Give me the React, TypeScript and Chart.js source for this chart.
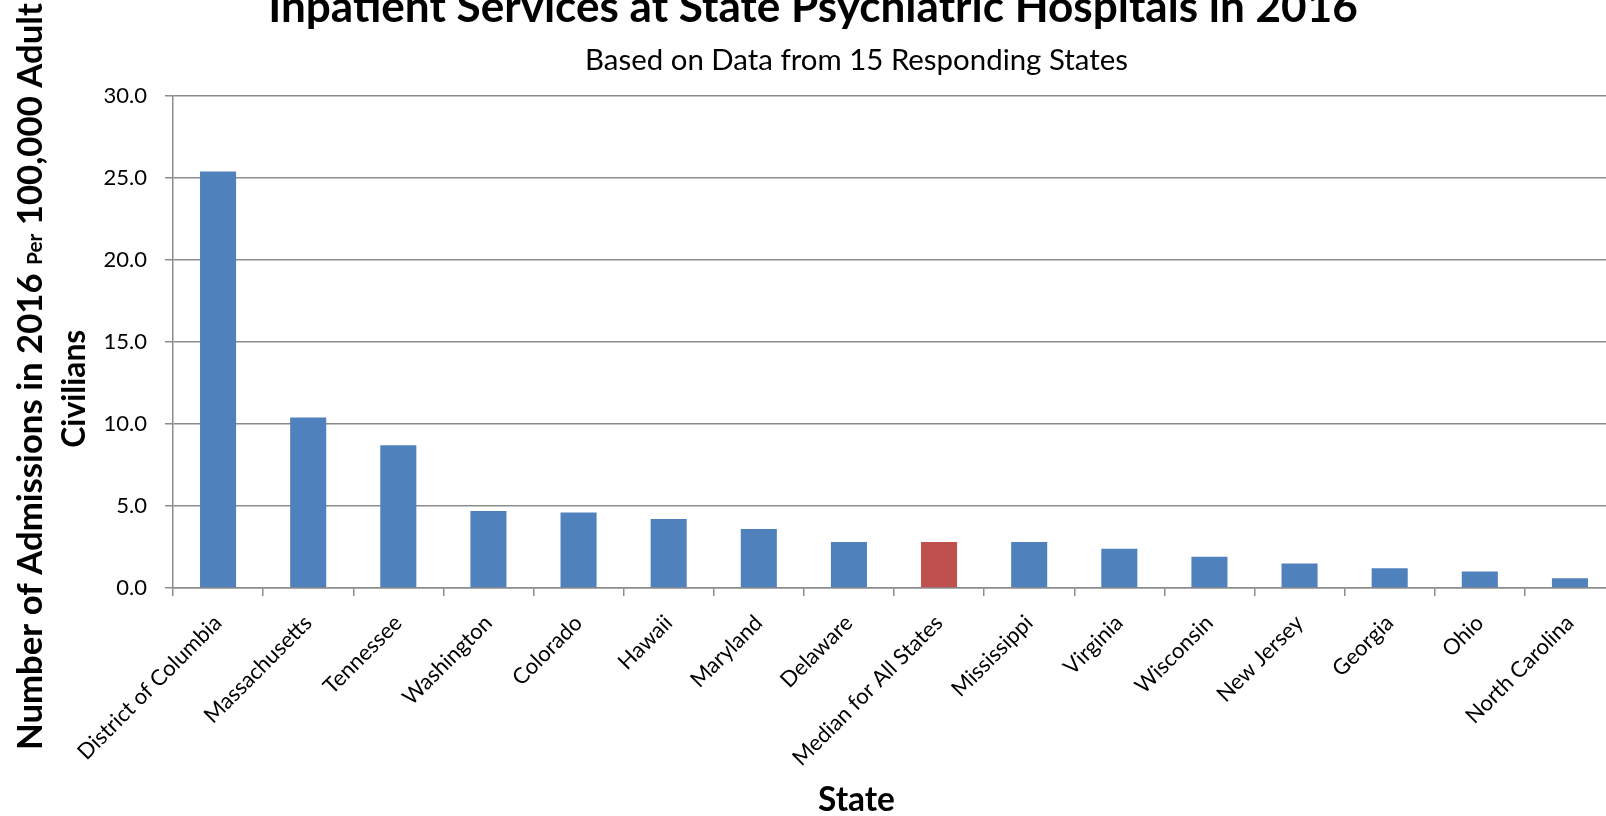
import React, { useEffect, useRef } from "react";
import { Chart, registerables } from "chart.js";

Chart.register(...registerables);

// ---- data ----
const states = [
  "District of Columbia",
  "Massachusetts",
  "Tennessee",
  "Washington",
  "Colorado",
  "Hawaii",
  "Maryland",
  "Delaware",
  "Median for All States",
  "Mississippi",
  "Virginia",
  "Wisconsin",
  "New Jersey",
  "Georgia",
  "Ohio",
  "North Carolina",
];
const admissionsPer100k = [25.4, 10.4, 8.7, 4.7, 4.6, 4.2, 3.6, 2.8, 2.8, 2.8, 2.4, 1.9, 1.5, 1.2, 1.0, 0.6];
const highlightedState = "Median for All States";
const yTickValues = [0, 5, 10, 15, 20, 25, 30];

const titleText = "Inpatient Services at State Psychiatric Hospitals in 2016";
const subtitleText = "Based on Data from 15 Responding States";
const yTitleLine1 = ["Number of Admissions in 2016 ", "Per", " 100,000 Adult"];
const yTitleLine2 = "Civilians";
const xTitleText = "State";

const FONT = "Lato";
const BLUE = "#4F81BD";
const RED = "#C0504D";
const GRID = "#8c8c8c";

function fitSize(ctx: CanvasRenderingContext2D, text: string, weight: string, target: number) {
  ctx.font = `${weight} 100px ${FONT}`;
  const w = ctx.measureText(text).width;
  return (100 * target) / w;
}

const textPlugin = {
  id: "customText",
  afterDraw(chart: any) {
    const ctx: CanvasRenderingContext2D = chart.ctx;
    ctx.save();
    ctx.fillStyle = "#000";
    ctx.textBaseline = "alphabetic";

    // main title
    let s = fitSize(ctx, titleText, "bold", 1090);
    ctx.font = `bold ${s}px ${FONT}`;
    ctx.textAlign = "center";
    ctx.fillText(titleText, 813, 22);

    // subtitle
    s = fitSize(ctx, subtitleText, "normal", 543);
    ctx.font = `normal ${s}px ${FONT}`;
    ctx.fillText(subtitleText, 856.5, 70);

    // x title
    s = fitSize(ctx, xTitleText, "bold", 77);
    ctx.font = `bold ${s}px ${FONT}`;
    ctx.fillText(xTitleText, 856.5, 811);

    // y title line 1 (mixed sizes)
    const small = 0.6;
    ctx.font = `bold 100px ${FONT}`;
    const a = ctx.measureText(yTitleLine1[0]).width;
    const c = ctx.measureText(yTitleLine1[2]).width;
    ctx.font = `bold ${100 * small}px ${FONT}`;
    const b = ctx.measureText(yTitleLine1[1]).width;
    const S = (100 * 747) / (a + b + c);
    ctx.save();
    ctx.translate(42, 750);
    ctx.rotate(-Math.PI / 2);
    ctx.textAlign = "left";
    let x = 0;
    ctx.font = `bold ${S}px ${FONT}`;
    ctx.fillText(yTitleLine1[0], x, 0);
    x += ctx.measureText(yTitleLine1[0]).width;
    ctx.font = `bold ${S * small}px ${FONT}`;
    ctx.fillText(yTitleLine1[1], x, 0);
    x += ctx.measureText(yTitleLine1[1]).width;
    ctx.font = `bold ${S}px ${FONT}`;
    ctx.fillText(yTitleLine1[2], x, 0);
    ctx.restore();

    // y title line 2
    s = fitSize(ctx, yTitleLine2, "bold", 118);
    ctx.save();
    ctx.translate(85, 388.7);
    ctx.rotate(-Math.PI / 2);
    ctx.textAlign = "center";
    ctx.font = `bold ${s}px ${FONT}`;
    ctx.fillText(yTitleLine2, 0, 0);
    ctx.restore();

    ctx.restore();
  },
};

export default function App() {
  const ref = useRef<HTMLCanvasElement | null>(null);

  useEffect(() => {
    if (!ref.current) return;
    const chart = new Chart(ref.current, {
      type: "bar",
      data: {
        labels: states,
        datasets: [
          {
            data: admissionsPer100k,
            backgroundColor: states.map((s) => (s === highlightedState ? RED : BLUE)),
            borderWidth: 0,
            categoryPercentage: 1,
            barPercentage: 0.4,
          },
        ],
      },
      options: {
        animation: false,
        responsive: false,
        devicePixelRatio: 1,
        layout: { padding: { top: 96, left: 0, right: 15, bottom: 0 } },
        plugins: {
          legend: { display: false },
          tooltip: { enabled: false },
          title: { display: false },
        },
        scales: {
          x: {
            offset: true,
            grid: {
              offset: true,
              drawOnChartArea: false,
              drawTicks: true,
              tickLength: 8,
              color: GRID,
              lineWidth: 1.5,
            },
            border: { color: GRID, width: 1.5 },
            ticks: {
              autoSkip: false,
              maxRotation: 45,
              minRotation: 45,
              padding: 14,
              color: "#000",
              font: { family: FONT, size: 22 },
            },
            afterFit: (scale: any) => {
              scale.height = 228;
            },
          },
          y: {
            min: 0,
            max: 30,
            afterBuildTicks: (scale: any) => {
              scale.ticks = yTickValues.map((v) => ({ value: v }));
            },
            grid: {
              color: GRID,
              lineWidth: 1.5,
              drawTicks: true,
              tickLength: 8,
            },
            border: { color: GRID, width: 1.5 },
            ticks: {
              padding: 18,
              color: "#000",
              font: { family: FONT, size: 22 },
              callback: (v: any) => Number(v).toFixed(1),
            },
            afterFit: (scale: any) => {
              scale.width = 173;
            },
          },
        },
      },
      plugins: [textPlugin],
    });
    return () => chart.destroy();
  }, []);

  return (
    <div
      style={{
        position: "absolute",
        left: 0,
        top: 0,
        width: 1606,
        height: 816,
        overflow: "hidden",
        background: "#fff",
      }}
    >
      <canvas ref={ref} width={1630} height={816} style={{ display: "block", width: 1630, height: 816 }} />
    </div>
  );
}
